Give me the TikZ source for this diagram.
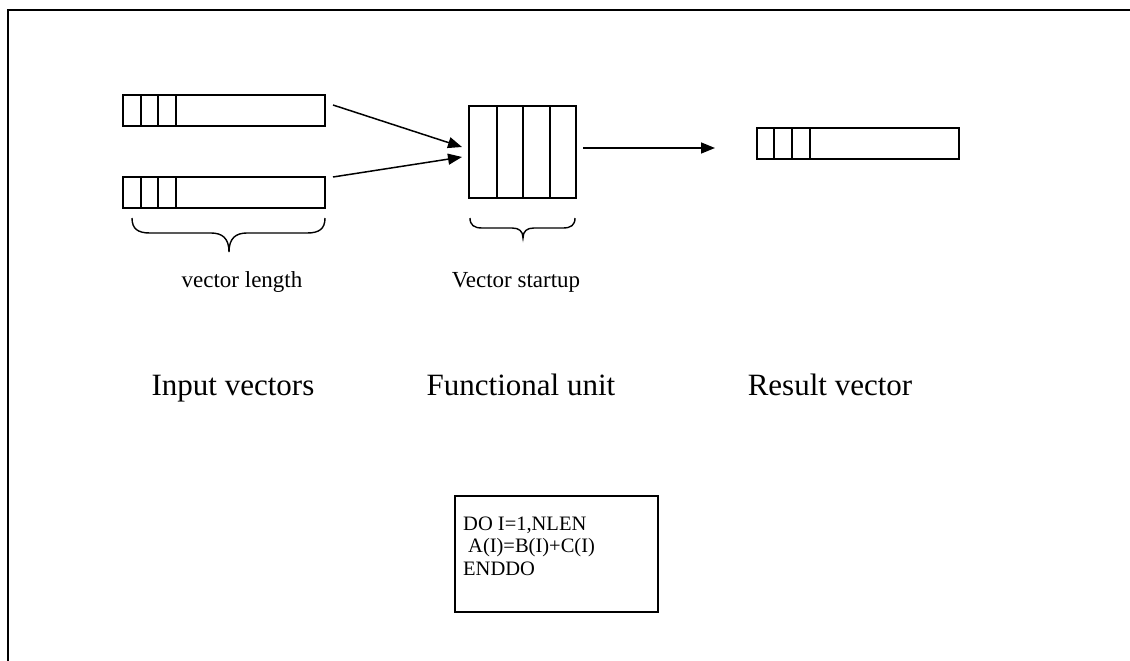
\documentclass[tikz,border=0pt]{standalone}
\usepackage{fontspec}
\setmainfont{Liberation Serif}
\usetikzlibrary{arrows.meta,calc}

\tikzset{
  vecbox/.style={draw, line width=1.5pt, minimum width=202pt, minimum height=31pt, inner sep=0pt, outer sep=0pt},
  unitbox/.style={draw, line width=1.5pt, minimum width=107pt, minimum height=92pt, inner sep=0pt, outer sep=0pt},
  codebox/.style={draw, line width=1.8pt, minimum width=203pt, minimum height=116pt, inner sep=0pt, outer sep=0pt},
  cell/.style={line width=1.5pt},
  flow/.style={line width=1.5pt, -{Triangle[length=14pt,width=11pt]}},
  brace/.style={line width=1.4pt},
  smalllabel/.style={font=\fontsize{23}{26}\selectfont, anchor=base, inner sep=0pt},
  biglabel/.style={font=\fontsize{31}{36}\selectfont, anchor=base, inner sep=0pt},
  frame/.style={line width=2.8pt}
}

\begin{document}
\begin{tikzpicture}[x=1pt,y=-1pt]
  \useasboundingbox (0,0) rectangle (1130,661);

  % outer frame (top and left edges)
  \coordinate (fbl) at (8,661);
  \coordinate (ftl) at (8,10);
  \coordinate (ftr) at (1130,10);
  \draw[frame] (fbl) -- (ftl) -- (ftr);

  % input vectors
  \node[vecbox] (in1) at (224,110.5) {};
  \node[vecbox] (in2) at (224,192.5) {};
  \foreach \v in {in1,in2}{
    \foreach \dx in {18,35,53}{
      \draw[cell] ([xshift=\dx pt]\v.north west) -- ([xshift=\dx pt]\v.south west);
    }
  }

  % functional unit
  \node[unitbox] (fu) at (522.5,152) {};
  \foreach \dx in {28,54,81}{
    \draw[cell] ([xshift=\dx pt]fu.north west) -- ([xshift=\dx pt]fu.south west);
  }

  % result vector
  \node[vecbox] (res) at (858,143.5) {};
  \foreach \dx in {17,35,53}{
    \draw[cell] ([xshift=\dx pt]res.north west) -- ([xshift=\dx pt]res.south west);
  }

  % data flow
  \draw[flow] ([shift={(8,-5.5)}]in1.east) -- ([shift={(-7,-5)}]fu.west);
  \draw[flow] ([shift={(8,-15.5)}]in2.east) -- ([shift={(-7,5)}]fu.west);
  \draw[flow] ([shift={(7,-4)}]fu.east) -- ([shift={(-42,4.5)}]res.west);

  % braces
  \coordinate (b1l) at (132,218);
  \coordinate (b1r) at (325,218);
  \coordinate (b1t) at (229,252);
  \draw[brace] (b1l) .. controls (132,229) and (138,233) .. (150,233)
     -- (211,233) .. controls (222,233) and (229,238) .. (b1t)
     .. controls (229,238) and (236,233) .. (247,233)
     -- (307,233) .. controls (319,233) and (325,229) .. (b1r);

  \coordinate (b2l) at (470,218);
  \coordinate (b2r) at (575,218);
  \coordinate (b2t) at (523,238);
  \draw[brace] (b2l) .. controls (470,225) and (474,228) .. (482,228)
     -- (512,228) .. controls (519,228) and (523,231) .. (b2t)
     .. controls (523,231) and (527,228) .. (534,228)
     -- (563,228) .. controls (571,228) and (575,225) .. (b2r);

  \node[smalllabel] (lenlbl) at (242,287) {vector length};
  \node[smalllabel] (suplbl) at (516,287) {Vector startup};

  % captions
  \node[biglabel] (inlbl) at (233,395) {Input vectors};
  \node[biglabel] (fulbl) at (521,395) {Functional unit};
  \node[biglabel] (reslbl) at (830,395) {Result vector};

  % loop code
  \node[codebox] (code) at (556.5,554) {};
  \node[anchor=base west, inner sep=0pt, align=left,
        font=\fontsize{20.5}{22.5}\selectfont] (codetext) at (463,575)
        {DO I=1,NLEN\\\hspace*{5pt}A(I)=B(I)+C(I)\\ENDDO};
\end{tikzpicture}
\end{document}
